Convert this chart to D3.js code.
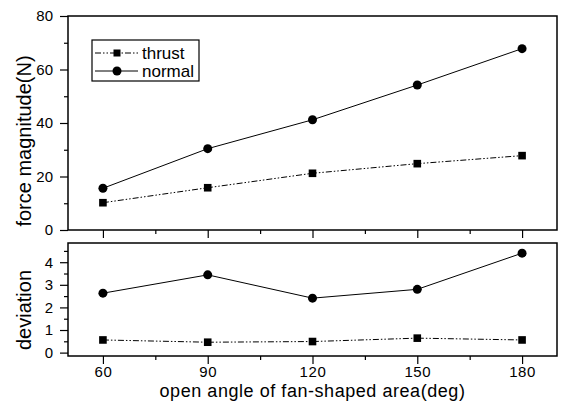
<!DOCTYPE html>
<html><head><meta charset="utf-8">
<script src="https://cdn.jsdelivr.net/npm/d3@7"></script>
<style>body{margin:0;background:#fff}svg{display:block;font-family:"Liberation Sans",Arial,sans-serif}</style>
</head><body>
<svg id="c" width="561" height="401"></svg>
<script>
const angles = [60, 90, 120, 150, 180];
const thrustForce = [10.2, 15.8, 21.2, 24.8, 27.8];
const normalForce = [15.6, 30.4, 41.2, 54.2, 67.8];
const thrustDev = [0.56, 0.46, 0.49, 0.64, 0.56];
const normalDev = [2.63, 3.44, 2.41, 2.80, 4.40];
const xTicks = [60, 90, 120, 150, 180];
const topTicks = [0, 20, 40, 60, 80];
const botTicks = [0, 1, 2, 3, 4];

const svg = d3.select("#c");
const FF = "Liberation Sans, Arial, sans-serif";
const L = 68, R = 557;
const x = d3.scaleLinear().domain([50, 190]).range([L, R]);
const yTop = d3.scaleLinear().domain([0, 80]).range([230, 16]);
const yBot = d3.scaleLinear().domain([-0.15, 4.85]).range([356, 243]);

function panel(y, ticks, minor, showXLabels) {
  const [y0, y1] = y.range();
  svg.append("rect").attr("x", L).attr("y", y1).attr("width", R - L).attr("height", y0 - y1)
    .attr("fill", "none").attr("stroke", "#000").attr("stroke-width", 1.5);
  const ya = svg.append("g").attr("transform", `translate(${L},0)`)
    .call(d3.axisLeft(y).tickValues(ticks).tickSize(8).tickPadding(7).tickFormat(d3.format("d")));
  ya.select(".domain").remove();
  ya.selectAll("text").attr("font-size", 15).attr("fill", "#000").attr("font-family", FF);
  const ym = svg.append("g").attr("transform", `translate(${L},0)`)
    .call(d3.axisLeft(y).tickValues(minor).tickSize(4).tickFormat(""));
  ym.select(".domain").remove();
  const xa = svg.append("g").attr("transform", `translate(0,${y0})`)
    .call(d3.axisBottom(x).tickValues(xTicks).tickSize(8).tickPadding(2.5).tickFormat(showXLabels ? d3.format("d") : ""));
  xa.select(".domain").remove();
  xa.selectAll("text").attr("font-size", 15).attr("fill", "#000").attr("font-family", FF)
    .attr("letter-spacing", 0.6);
  const xm = svg.append("g").attr("transform", `translate(0,${y0})`)
    .call(d3.axisBottom(x).tickValues([75, 105, 135, 165]).tickSize(4).tickFormat(""));
  xm.select(".domain").remove();
  svg.selectAll(".tick line").attr("stroke-width", 1.2);
}

panel(yTop, topTicks, [10, 30, 50, 70], false);
panel(yBot, botTicks, [0.5, 1.5, 2.5, 3.5, 4.5], true);

const dashThrust = "6,2,1.5,2,1.5,2";
function series(y, vals, dashed, marker) {
  const data = angles.map((a, i) => [a, vals[i]]);
  svg.append("path").datum(data)
    .attr("d", d3.line().x(d => x(d[0])).y(d => y(d[1])))
    .attr("fill", "none").attr("stroke", "#000").attr("stroke-width", 1)
    .attr("stroke-dasharray", dashed ? dashThrust : null);
  if (marker === "circle") {
    svg.selectAll(null).data(data).enter().append("circle")
      .attr("cx", d => x(d[0])).attr("cy", d => y(d[1])).attr("r", 4.5).attr("fill", "#000");
  } else {
    svg.selectAll(null).data(data).enter().append("rect")
      .attr("x", d => x(d[0]) - 3.8).attr("y", d => y(d[1]) - 3.8)
      .attr("width", 7.6).attr("height", 7.6).attr("fill", "#000");
  }
}
series(yTop, normalForce, false, "circle");
series(yTop, thrustForce, true, "square");
series(yBot, normalDev, false, "circle");
series(yBot, thrustDev, true, "square");

// legend
const lg = svg.append("g");
lg.append("rect").attr("x", 92).attr("y", 40).attr("width", 107).attr("height", 41)
  .attr("fill", "#fff").attr("stroke", "#000").attr("stroke-width", 1.2);
const items = [{name: "thrust", dash: true, m: "square", y: 53}, {name: "normal", dash: false, m: "circle", y: 71}];
items.forEach(it => {
  lg.append("line").attr("x1", 95).attr("x2", 138).attr("y1", it.y).attr("y2", it.y)
    .attr("stroke", "#000").attr("stroke-width", 1).attr("stroke-dasharray", it.dash ? dashThrust : null);
  if (it.m === "circle") lg.append("circle").attr("cx", 117).attr("cy", it.y).attr("r", 4.5);
  else lg.append("rect").attr("x", 113.5).attr("y", it.y - 3.5).attr("width", 7).attr("height", 7);
  lg.append("text").attr("x", 142).attr("y", it.y + 6).attr("font-size", 17).text(it.name);
});

// axis titles
svg.append("text").attr("transform", `translate(31,141) rotate(-90)`)
  .attr("text-anchor", "middle").attr("font-size", 20).text("force magnitude(N)");
svg.append("text").attr("transform", `translate(31,310) rotate(-90)`)
  .attr("text-anchor", "middle").attr("font-size", 20).text("deviation");
svg.append("text").attr("x", 312.5).attr("y", 397)
  .attr("text-anchor", "middle").attr("font-size", 18).attr("letter-spacing", 0.55)
  .text("open angle of fan-shaped area(deg)");
</script>
</body></html>
